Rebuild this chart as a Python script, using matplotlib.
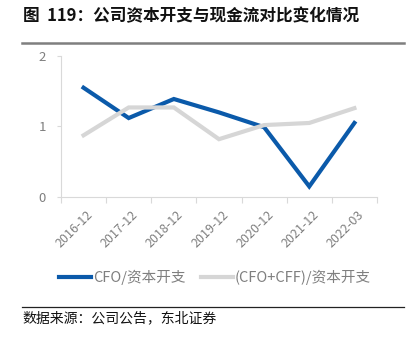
import matplotlib.pyplot as plt
from matplotlib.lines import Line2D

plt.rcParams['font.family'] = ['Noto Sans CJK SC', 'DejaVu Sans']

periods = ['2016-12', '2017-12', '2018-12', '2019-12', '2020-12', '2021-12', '2022-03']
cfo_capex = [1.55, 1.12, 1.39, 1.20, 0.99, 0.15, 1.05]
cfo_cff_capex = [0.875, 1.27, 1.27, 0.82, 1.02, 1.05, 1.26]

blue = '#0B5AAA'
grey = '#D6D6D6'

fig = plt.figure(figsize=(4.12, 3.40), dpi=100)
ax = fig.add_axes([0.148, 0.4206, 0.767, 0.4147])

x = list(range(len(periods)))
ax.plot(x, cfo_capex, color=blue, lw=3, solid_joinstyle='miter')
ax.plot(x, cfo_cff_capex, color=grey, lw=3, solid_joinstyle='miter')

ax.set_xlim(-0.5, len(periods) - 0.5)
ax.set_ylim(0, 2)
ax.set_yticks([0, 1, 2])
ax.tick_params(axis='y', length=3, color='#D9D9D9', labelsize=9.5, labelcolor='#7F7F7F', pad=8)
ax.set_xticks([i + 0.5 for i in range(-1, len(periods))])
ax.set_xticklabels([''] * (len(periods) + 1))
ax.tick_params(axis='x', length=4, color='#D9D9D9', direction='out')
for i, p in enumerate(periods):
    ax.text(i + 0.06, -0.16, p, rotation=45, ha='right', va='top', fontsize=9,
            color='#7F7F7F', rotation_mode='anchor')

for s in ['top', 'right']:
    ax.spines[s].set_visible(False)
for s in ['left', 'bottom']:
    ax.spines[s].set_color('#D9D9D9')
    ax.spines[s].set_linewidth(0.8)

handles = [Line2D([], [], color=blue, lw=3), Line2D([], [], color=grey, lw=3)]
fig.legend(handles, ['CFO/资本开支', '(CFO+CFF)/资本开支'], loc='center',
           bbox_to_anchor=(0.522, 0.185), ncol=2, frameon=False, fontsize=10.5,
           handlelength=2.2, handletextpad=0.15, columnspacing=1.0,
           labelcolor='#7F7F7F')

fig.text(0.055, 0.953, '图  119：公司资本开支与现金流对比变化情况', fontsize=12,
         fontweight='bold', ha='left', va='center', color='#111111')
fig.add_artist(Line2D([0.053, 0.98], [0.874, 0.874], color='#7F7F7F', lw=1.8))
fig.add_artist(Line2D([0.053, 0.98], [0.098, 0.098], color='#222222', lw=0.9))
fig.text(0.055, 0.063, '数据来源：公司公告，东北证券', fontsize=10,
         ha='left', va='center', color='#111111')

fig.savefig('out.png', dpi=100)
